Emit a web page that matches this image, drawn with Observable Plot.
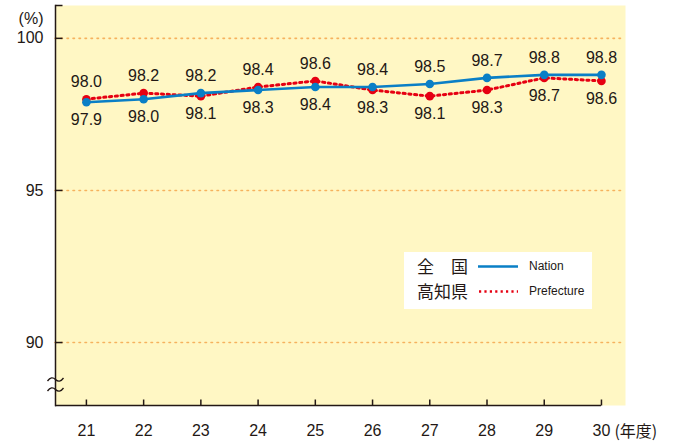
<!DOCTYPE html>
<html><head><meta charset="utf-8">
<script src="https://cdn.jsdelivr.net/npm/d3@7"></script>
<script src="https://cdn.jsdelivr.net/npm/@observablehq/plot@0.6"></script>
<style>
body{margin:0;background:#fff;}
#wrap{position:relative;width:682px;height:444px;font-family:"Liberation Sans",Arial,sans-serif;color:#231815;}
#legend{position:absolute;left:404px;top:252px;width:188px;height:57px;background:#fff;}
#legend .jp{position:absolute;left:13px;font-family:"Noto Sans CJK JP",sans-serif;font-size:17px;line-height:20px;}
#legend .en{position:absolute;left:125px;font-size:12px;line-height:14px;font-family:"Liberation Sans Narrow","Liberation Sans",sans-serif;}
#legend svg{position:absolute;left:74px;}
</style></head><body><div id="wrap"></div>
<script>
const years = [21, 22, 23, 24, 25, 26, 27, 28, 29, 30];
const nation = [97.9, 98.0, 98.2, 98.3, 98.4, 98.4, 98.5, 98.7, 98.8, 98.8];
const prefecture = [98.0, 98.2, 98.1, 98.4, 98.6, 98.3, 98.1, 98.3, 98.7, 98.6];
const yTicks = [90, 95, 100];
const seriesNames = ["全　国", "高知県"];
const seriesLabels = ["Nation", "Prefecture"];
const yUnit = "(%)";
const xUnit = "(年度)";

const blue = "#0a7fc6", red = "#e60012", ink = "#231815";
const xDomain = [20.46, 30.42], yDomain = [87.93, 101.08];

const rows = [];
years.forEach((yr, i) => {
  rows.push({year: yr, series: "Nation", value: nation[i], above: nation[i] > prefecture[i]});
  rows.push({year: yr, series: "Prefecture", value: prefecture[i], above: prefecture[i] > nation[i]});
});
const natRows = rows.filter(d => d.series === "Nation");
const prefRows = rows.filter(d => d.series === "Prefecture");

const tickRight = {draw(ctx) { ctx.moveTo(0, 0); ctx.lineTo(7, 0); }};
const tickUp = {draw(ctx) { ctx.moveTo(0, 0); ctx.lineTo(0, -6); }};
const breakSymbol = {draw(ctx) {
  for (const o of [-5, 5]) {
    ctx.moveTo(-8, o + 1.5);
    ctx.quadraticCurveTo(-4, o - 4, 0, o);
    ctx.quadraticCurveTo(4, o + 4, 8, o - 1.5);
  }
}};
const labelFont = "Liberation Sans Narrow, Liberation Sans, sans-serif";

const chart = Plot.plot({
  width: 682, height: 444,
  marginLeft: 55, marginRight: 57, marginTop: 5, marginBottom: 39,
  style: {fontFamily: "Liberation Sans, Arial, sans-serif", color: ink, background: "transparent"},
  x: {type: "linear", domain: xDomain, axis: null},
  y: {domain: yDomain, axis: null},
  marks: [
    Plot.frame({fill: "#fff7c4", stroke: null}),
    Plot.gridY(yTicks, {stroke: "#f6b25e", strokeOpacity: 1, strokeWidth: 1.6, strokeDasharray: "1.5,4.5", strokeLinecap: "round"}),
    Plot.frame({anchor: "left", stroke: ink, strokeWidth: 1.5}),
    Plot.ruleY([yDomain[0]], {x1: xDomain[0], x2: years[years.length - 1], stroke: ink, strokeWidth: 1.5}),
    Plot.dot([...yTicks, yDomain[1]], {x: xDomain[0], y: d => d, symbol: tickRight, stroke: ink, strokeWidth: 1.5, fill: "none"}),
    Plot.dot(years, {x: d => d, y: yDomain[0], symbol: tickUp, stroke: ink, strokeWidth: 1.5, fill: "none"}),
    Plot.dot([0], {frameAnchor: "bottom-left", dy: -21, symbol: breakSymbol, stroke: ink, strokeWidth: 1.3, fill: "none"}),
    Plot.axisY(yTicks, {tickSize: 0, tickPadding: 12, fontSize: 16, fill: ink, label: null, style: {letterSpacing: "1px"}}),
    Plot.axisX(years, {tickSize: 0, tickPadding: 19, fontSize: 16, fill: ink, label: null, tickFormat: d => String(d), style: {letterSpacing: "1px"}}),
    Plot.text([yUnit], {frameAnchor: "top-left", dx: -12, dy: 13, textAnchor: "end", lineAnchor: "middle", fontSize: 16, fill: ink}),
    Plot.text([xUnit], {x: [years[years.length - 1]], y: [yDomain[0]], dx: 13, dy: 26, textAnchor: "start", fontSize: 16, fill: ink, fontFamily: "Noto Sans CJK JP, sans-serif", style: {letterSpacing: "3px"}}),
    Plot.line(prefRows, {x: "year", y: "value", stroke: red, strokeWidth: 3, strokeDasharray: "2.2,3.6"}),
    Plot.dot(prefRows, {x: "year", y: "value", fill: red, r: 4.3}),
    Plot.line(natRows, {x: "year", y: "value", stroke: blue, strokeWidth: 2.6}),
    Plot.dot(natRows, {x: "year", y: "value", fill: blue, r: 4.3}),
    Plot.text(rows.filter(d => d.above), {x: "year", y: "value", text: d => d.value.toFixed(1), dy: -17,
      fontSize: 16, fill: ink, fontFamily: labelFont}),
    Plot.text(rows.filter(d => !d.above), {x: "year", y: "value", text: d => d.value.toFixed(1), dy: 18,
      fontSize: 16, fill: ink, fontFamily: labelFont})
  ]
});
const wrap = document.getElementById("wrap");
wrap.appendChild(chart);

const legend = document.createElement("div");
legend.id = "legend";
legend.innerHTML = `
  <div class="jp" style="top:4px">${seriesNames[0]}</div>
  <div class="jp" style="top:29px">${seriesNames[1]}</div>
  <svg width="42" height="57" style="top:0">
    <line x1="0" x2="40" y1="14.5" y2="14.5" stroke="${blue}" stroke-width="2.6"/>
    <line x1="1" x2="40" y1="39.5" y2="39.5" stroke="${red}" stroke-width="2.6" stroke-dasharray="2.2,3.2"/>
  </svg>
  <div class="en" style="top:7px">${seriesLabels[0]}</div>
  <div class="en" style="top:32px">${seriesLabels[1]}</div>`;
wrap.appendChild(legend);
</script></body></html>
